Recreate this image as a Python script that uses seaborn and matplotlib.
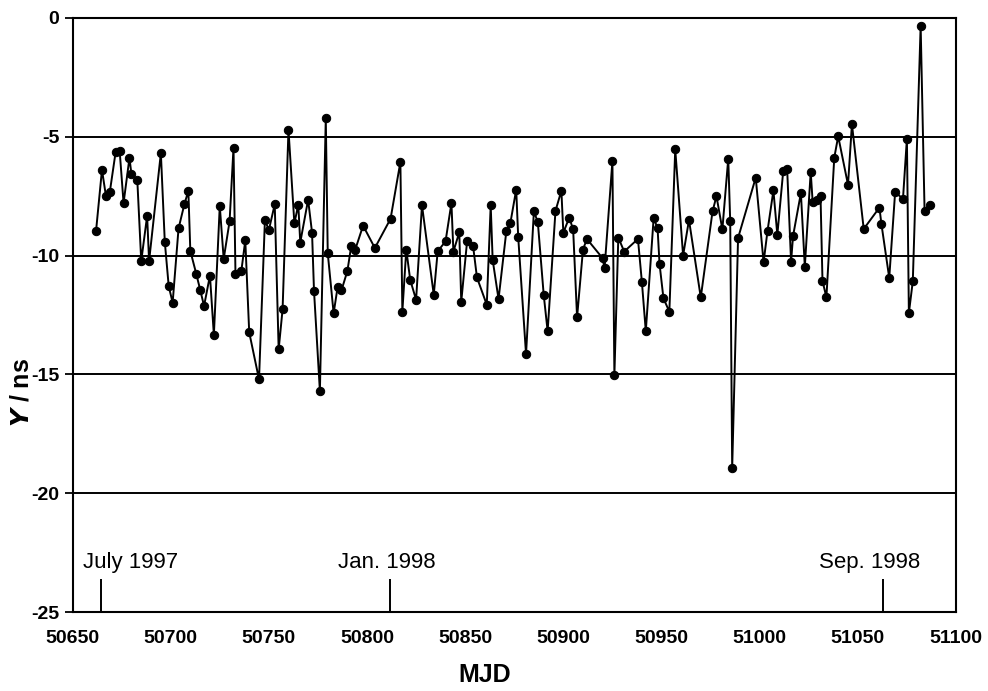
import numpy as np
import pandas as pd
import seaborn as sns
import matplotlib.pyplot as plt

# valores (MJD, Y em ns)
mjd = [50662, 50665, 50667, 50669, 50672, 50674, 50676, 50679, 50680, 50683,
       50685, 50688, 50689, 50695, 50697, 50699, 50701, 50704, 50707, 50709,
       50710, 50713, 50715, 50717, 50720, 50722, 50725, 50727, 50730, 50732,
       50733, 50736, 50738, 50740, 50745, 50748, 50750, 50753, 50755, 50757,
       50760, 50763, 50765, 50766, 50770, 50772, 50773, 50776, 50779, 50780,
       50783, 50785, 50787, 50790, 50792, 50794, 50798, 50804, 50812, 50817,
       50818, 50820, 50822, 50825, 50828, 50834, 50836, 50840, 50843, 50844,
       50847, 50848, 50851, 50854, 50856, 50861, 50863, 50864, 50867, 50871,
       50873, 50876, 50877, 50881, 50885, 50887, 50890, 50892, 50896, 50899,
       50900, 50903, 50905, 50907, 50910, 50912, 50920, 50921, 50925, 50926,
       50928, 50931, 50938, 50940, 50942, 50946, 50948, 50949, 50951, 50954,
       50957, 50961, 50964, 50970, 50976, 50978, 50981, 50984, 50985, 50986,
       50989, 50998, 51002, 51004, 51007, 51009, 51012, 51014, 51016, 51017,
       51021, 51023, 51026, 51027, 51029, 51031, 51032, 51034, 51038, 51040,
       51045, 51047, 51053, 51061, 51062, 51066, 51069, 51073, 51075, 51076,
       51078, 51082, 51084, 51087]
y_ns = [-8.95, -6.39, -7.48, -7.32, -5.62, -5.58, -7.79, -5.89, -6.56, -6.83,
        -10.23, -8.33, -10.23, -5.69, -9.42, -11.29, -11.98, -8.86, -7.83, -7.28,
        -9.80, -10.76, -11.43, -12.12, -10.84, -13.34, -7.91, -10.14, -8.56, -5.46,
        -10.77, -10.64, -9.36, -13.23, -15.21, -8.50, -8.93, -7.84, -13.95, -12.26,
        -4.70, -8.64, -7.86, -9.45, -7.65, -9.03, -11.48, -15.70, -4.22, -9.90,
        -12.43, -11.34, -11.46, -10.65, -9.58, -9.75, -8.74, -9.68, -8.45, -6.06,
        -12.36, -9.75, -11.02, -11.86, -7.88, -11.65, -9.82, -9.40, -7.79, -9.83,
        -9.02, -11.94, -9.38, -9.58, -10.92, -12.07, -7.89, -10.18, -11.83, -8.95,
        -8.64, -7.22, -9.20, -14.15, -8.14, -8.59, -11.65, -13.18, -8.12, -7.27,
        -9.04, -8.40, -8.90, -12.60, -9.75, -9.30, -10.11, -10.54, -6.02, -15.04,
        -9.24, -9.83, -9.30, -11.10, -13.18, -8.42, -8.85, -10.35, -11.80, -12.36,
        -5.53, -10.00, -8.50, -11.76, -8.14, -7.50, -8.90, -5.92, -8.56, -18.95,
        -9.26, -6.72, -10.28, -8.96, -7.26, -9.13, -6.44, -6.36, -10.26, -9.18,
        -7.37, -10.47, -6.48, -7.75, -7.64, -7.50, -11.06, -11.76, -5.88, -4.98,
        -7.02, -4.47, -8.88, -7.98, -8.66, -10.94, -7.33, -7.61, -5.08, -12.42,
        -11.08, -0.32, -8.13, -7.86]

event_mjd = [50664.5, 50811.6, 51063]
event_labels = ['July 1997', 'Jan. 1998', 'Sep. 1998']
label_mjd = [50679.5, 50810, 51056]

df = pd.DataFrame({'MJD': mjd, 'Y': y_ns})

sns.set_style('white')
plt.rcParams['font.family'] = ['Liberation Sans', 'DejaVu Sans']
plt.rcParams['axes.unicode_minus'] = False
plt.rcParams['text.color'] = 'black'
plt.rcParams['xtick.color'] = 'black'
plt.rcParams['ytick.color'] = 'black'
plt.rcParams['axes.labelcolor'] = 'black'

fig, ax = plt.subplots(figsize=(9.88, 6.91), dpi=100)
fig.subplots_adjust(left=0.0734, right=0.9676, top=0.974, bottom=0.1143)

for v in [-5, -10, -15, -20]:
    ax.axhline(v, color='black', linewidth=1.4, zorder=1)

sns.lineplot(data=df, x='MJD', y='Y', ax=ax, color='black', linewidth=1.4,
             marker='o', markersize=6, markeredgecolor='black', zorder=3)

ax.vlines(event_mjd, -25, -23.6, color='black', linewidth=1.4)
for xm, lab in zip(label_mjd, event_labels):
    ax.text(xm, -22.9, lab, ha='center', va='center', fontsize=16, color='black')

ax.set_xlim(50650, 51100)
ax.set_ylim(-25, 0)
ax.set_xticks(np.arange(50650, 51101, 50))
ax.set_yticks(np.arange(-25, 1, 5))
ax.tick_params(axis='x', direction='inout', length=10, width=1.3, labelsize=14, pad=8)
ax.tick_params(axis='y', direction='out', length=6, width=1.3, labelsize=14, left=True)
for t in ax.get_xticklabels() + ax.get_yticklabels():
    t.set_fontweight('bold')

for s in ax.spines.values():
    s.set_color('black')
    s.set_linewidth(1.5)

ax.set_xlabel('MJD', fontsize=18, fontweight='bold')
ax.set_ylabel('$\\boldsymbol{Y}$ / ns', fontsize=18, fontweight='bold')
ax.xaxis.set_label_coords(0.467, -0.085)
ax.yaxis.set_label_coords(-0.044, 0.37)

plt.savefig('out.png', dpi=100)
plt.close()
